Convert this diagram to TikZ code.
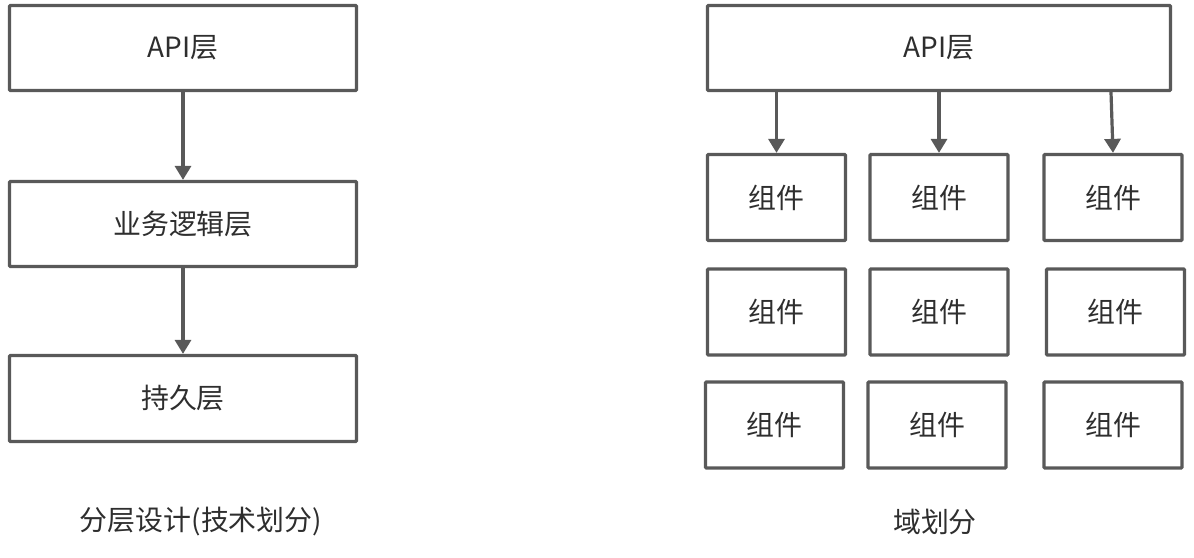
\documentclass[tikz,border=0pt]{standalone}
\usepackage{fontspec}
\setmainfont{Noto Sans CJK SC}
\usetikzlibrary{arrows.meta}
\definecolor{boxline}{HTML}{595959}
\definecolor{txt}{HTML}{2E2E2E}
\tikzset{
  box/.style={draw=boxline, line width=3.2bp, rounded corners=1bp, inner sep=0pt,
    minimum width=#1, minimum height=85bp, text=txt,
    font=\fontsize{28}{32}\selectfont},
  box/.default=347bp,
  cell/.style={box=138bp, minimum height=86bp},
  conn/.style={draw=boxline, line width=3.2bp, -{Triangle[width=16bp,length=14bp]}},
  caption/.style={text=txt, font=\fontsize{28}{32}\selectfont}
}
\begin{document}
\begin{tikzpicture}[x=1bp,y=-1bp]
\useasboundingbox (0,0) rectangle (1194,558);
% left column
\node[box] (l1) at (183,48) {API层};
\node[box] (l2) at (183,224) {业务逻辑层};
\node[box, minimum height=86bp] (l3) at (183,398.5) {持久层};
\draw[conn] (l1) -- (l2);
\draw[conn] (l2) -- (l3);
\node[caption] (cl) at (201,522) {分层设计(技术划分)};
% right
\node[box=463bp] (r0) at (939,48) {API层};
\node[cell] (r11) at (776.5,197.5) {组件};
\node[cell] (r12) at (939,197.5) {组件};
\node[cell] (r13) at (1113,197.5) {组件};
\node[cell] (r21) at (776.5,312) {组件};
\node[cell] (r22) at (939,312) {组件};
\node[cell] (r23) at (1115.5,312) {组件};
\node[cell] (r31) at (774.5,425) {组件};
\node[cell] (r32) at (937,425) {组件};
\node[cell] (r33) at (1113,425) {组件};
\draw[conn] (r0.south -| r11) -- (r11.north);
\draw[conn] (r0.south -| r12) -- (r12.north);
\draw[conn] ([xshift=-2bp]r0.south -| r13) -- (r13.north);
\node[caption] (cr) at (935,522) {域划分};
\end{tikzpicture}
\end{document}
